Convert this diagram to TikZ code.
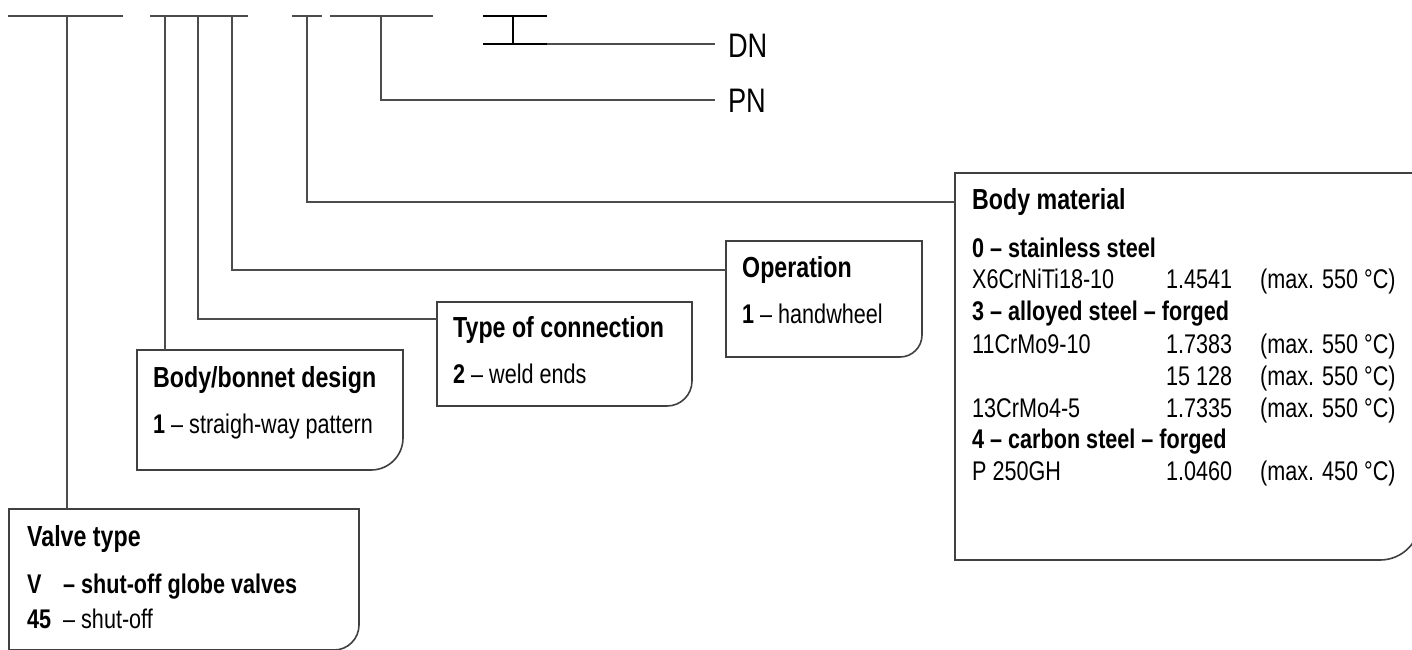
\documentclass[tikz,border=0pt]{standalone}
\usepackage{fontspec}
\setmainfont{Liberation Sans}[FakeStretch=0.8]

\newcommand{\matrow}[3]{\makebox[185pt][l]{#1}\makebox[75pt][r]{#2}\hspace{28pt}#3}

\begin{document}
\begin{tikzpicture}[x=1pt,y=-1pt]
      \useasboundingbox (0,0) rectangle (1412,649);

      \tikzstyle{box} = [
        rectangle,
        draw=none,
        anchor=north west,
        inner sep=0pt,
        outer sep=0pt
      ]
      \tikzstyle{frame} = [draw=black!75, line width=1.6pt]
      \tikzstyle{link} = [draw=black!70, line width=1.7pt]
      \tikzstyle{title} = [anchor=base west, inner sep=0pt, text=black, font=\fontsize{29}{34}\selectfont\bfseries]
      \tikzstyle{entry} = [anchor=base west, inner sep=0pt, text=black, font=\fontsize{27}{32}\selectfont]
      \tikzstyle{code} = [anchor=base west, inner sep=0pt, outer xsep=13pt, text=black, font=\fontsize{34}{40}\selectfont]

      % code bars
      \coordinate (bar1a) at (8,16);    \coordinate (bar1b) at (123,16);
      \coordinate (bar2a) at (150,16);  \coordinate (bar2b) at (248,16);
      \coordinate (bar3a) at (292,16);  \coordinate (bar3b) at (322,16);
      \coordinate (bar4a) at (330,16);  \coordinate (bar4b) at (433,16);
      \coordinate (dnTopA) at (483,16); \coordinate (dnTopB) at (547,16);
      \coordinate (dnBotA) at (483,44); \coordinate (dnBotB) at (547,44);
      \coordinate (dnStem) at (513,16);

      % taps
      \coordinate (valveTap) at (67,16);
      \coordinate (bodyTap) at (165,16);
      \coordinate (connTap) at (198,16);
      \coordinate (opTap) at (232,16);
      \coordinate (matTap) at (307,16);
      \coordinate (pnTap) at (381,16);

      % boxes
      \node[box, minimum width=350pt, minimum height=141pt] (valveBox) at (9,509) {};
      \node[box, minimum width=266pt, minimum height=120pt] (bodyBox) at (137,350) {};
      \node[box, minimum width=255pt, minimum height=104pt] (connBox) at (437,302) {};
      \node[box, minimum width=196pt, minimum height=116pt] (opBox) at (726,241) {};
      \node[box, minimum width=465pt, minimum height=387pt] (matBox) at (955,173) {};

      \foreach \b/\r in {valveBox/25, bodyBox/32, connBox/25, opBox/22, matBox/40}
        \draw[frame] (\b.north west) -- (\b.north east) -- (\b.east)
          [rounded corners=\r pt] -- (\b.south east) -- (\b.south)
          [sharp corners] -- (\b.south west) -- cycle;

      % valve type
      \node[title] (valveTitle) at (27,546) {Valve type};
      \node[entry] (valveV) at (27,593) {\bfseries\makebox[36pt][l]{V}– shut-off globe valves};
      \node[entry] (valve45) at (27,628) {\makebox[36pt][l]{\bfseries 45}– shut-off};

      % body/bonnet design
      \node[title] (bodyTitle) at (153,387) {Body/bonnet design};
      \node[entry] (bodyOne) at (153,433) {\textbf{1} – straigh-way pattern};

      % type of connection
      \node[title] (connTitle) at (453,337) {Type of connection};
      \node[entry] (connTwo) at (453,383) {\textbf{2} – weld ends};

      % operation
      \node[title] (opTitle) at (742,277) {Operation};
      \node[entry] (opOne) at (742,323) {\textbf{1} – handwheel};

      % body material
      \node[title] (matTitle) at (972,209) {Body material};
      \node[entry] (matSteel0) at (972,257) {\textbf{0 – stainless steel}};
      \node[entry] (matX6) at (972,288) {\matrow{X6CrNiTi18-10}{1.4541}{(max. 550 °C)}};
      \node[entry] (matSteel3) at (972,320) {\textbf{3 – alloyed steel – forged}};
      \node[entry] (mat11Cr) at (972,353) {\matrow{11CrMo9-10}{1.7383}{(max. 550 °C)}};
      \node[entry] (mat15128) at (972,385) {\matrow{}{15 128}{(max. 550 °C)}};
      \node[entry] (mat13Cr) at (972,417) {\matrow{13CrMo4-5}{1.7335}{(max. 550 °C)}};
      \node[entry] (matSteel4) at (972,448) {\textbf{4 – carbon steel – forged}};
      \node[entry] (matP250) at (972,480) {\matrow{P 250GH}{1.0460}{(max. 450 °C)}};

      % DN and PN
      \node[code] (dnLabel) at (715,57) {DN};
      \node[code] (pnLabel) at (715,112) {PN};

      % bars
      \draw[link] (bar1a) -- (bar1b);
      \draw[link] (bar2a) -- (bar2b);
      \draw[link] (bar3a) -- (bar3b);
      \draw[link] (bar4a) -- (bar4b);
      \draw[link, draw=black] (dnTopA) -- (dnTopB);
      \draw[link, draw=black] (dnBotA) -- (dnBotB);
      \draw[link, draw=black] (dnStem) -- (dnStem |- dnBotA);

      % leaders
      \draw[link] (valveTap) -- (valveTap |- valveBox.north);
      \draw[link] (bodyTap) -- (bodyTap |- bodyBox.north);
      \draw[link] (connTap) |- ([yshift=-17pt] connBox.north west);
      \draw[link] (opTap) |- ([yshift=-29pt] opBox.north west);
      \draw[link] (matTap) |- ([yshift=-29pt] matBox.north west);
      \draw[link] (pnTap) |- (pnLabel.west);
      \draw[link] (dnBotB) -- (dnLabel.west |- dnBotB);
    \end{tikzpicture}
\end{document}
